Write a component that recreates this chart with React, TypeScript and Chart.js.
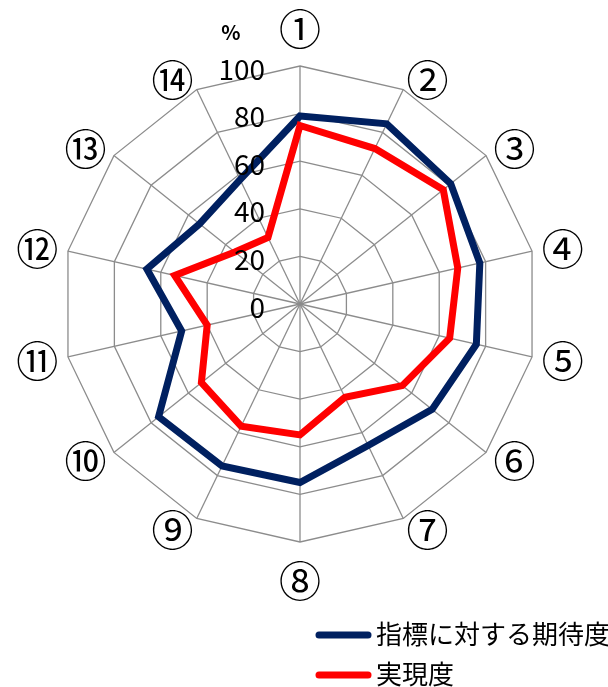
import { useEffect, useRef } from 'react';
import { Chart, registerables } from 'chart.js';

Chart.register(...registerables);

const categories = ['①', '②', '③', '④', '⑤', '⑥', '⑦', '⑧', '⑨', '⑩', '⑪', '⑫', '⑬', '⑭'];
const expectation = [79, 84, 81, 77.5, 76, 71, 66, 75, 75.5, 76, 51, 66, 54, 58];
const realization = [75, 72.5, 77, 68, 64.5, 55, 43.5, 55, 57, 53, 40, 54, 35, 31];
const tickValues = [0, 20, 40, 60, 80, 100];
const seriesNames = ['指標に対する期待度', '実現度'];
const seriesColors = ['#002060', '#ff0000'];
const unitLabel = '%';

const FONT = '"Noto Sans CJK JP", "Noto Sans", sans-serif';

const overlayPlugin = {
  id: 'overlay',
  afterDraw(chart: any) {
    const scale = chart.scales.r;
    const ctx = chart.ctx as CanvasRenderingContext2D;
    const cx = scale.xCenter;
    const cy = scale.yCenter;
    const R = scale.drawingArea;
    ctx.save();
    ctx.fillStyle = '#000';

    // tick labels
    ctx.font = `28px ${FONT}`;
    ctx.textAlign = 'right';
    ctx.textBaseline = 'middle';
    scale.ticks.forEach((t: any) => {
      const d = scale.getDistanceFromCenterForValue(t.value);
      ctx.fillText(String(t.value), cx - 35, cy - d + 3);
    });

    // unit label
    ctx.font = `bold 20px ${FONT}`;
    ctx.textAlign = 'center';
    ctx.fillText(unitLabel, cx - 69, cy - R - 34);

    // point labels
    const labels: string[] = chart.data.labels;
    const n = labels.length;
    ctx.font = `42px ${FONT}`;
    ctx.textAlign = 'center';
    ctx.textBaseline = 'middle';
    labels.forEach((lab, i) => {
      const ang = (i * 2 * Math.PI) / n;
      const s = Math.sin(ang);
      const c = Math.cos(ang);
      let x: number;
      let y: number;
      if (Math.abs(s) < 0.01) {
        x = cx;
        y = cy - c * (R + 38);
      } else {
        const p = scale.getPointPosition(i, R + 12);
        x = p.x + (s > 0 ? 19 : -19);
        y = p.y;
      }
      ctx.fillText(lab, x, y + 1);
    });

    // legend
    const datasets = chart.data.datasets;
    const lx0 = 319;
    const lx1 = 368;
    const ly = [635, 675];
    datasets.forEach((ds: any, i: number) => {
      ctx.beginPath();
      ctx.strokeStyle = ds.borderColor;
      ctx.lineWidth = 7;
      ctx.lineCap = 'round';
      ctx.moveTo(lx0, ly[i]);
      ctx.lineTo(lx1, ly[i]);
      ctx.stroke();
      ctx.font = `26px ${FONT}`;
      ctx.textAlign = 'left';
      ctx.textBaseline = 'middle';
      ctx.fillStyle = '#000';
      ctx.fillText(ds.label, 376, ly[i] - 1);
    });
    ctx.restore();
  },
};

export default function App() {
  const ref = useRef<HTMLCanvasElement | null>(null);
  useEffect(() => {
    if (!ref.current) return;
    const chart = new Chart(ref.current, {
      type: 'radar',
      data: {
        labels: categories,
        datasets: [
          {
            label: seriesNames[0],
            data: expectation,
            borderColor: seriesColors[0],
            backgroundColor: seriesColors[0],
            borderWidth: 7,
            pointRadius: 0,
            fill: false,
            order: 1,
          },
          {
            label: seriesNames[1],
            data: realization,
            borderColor: seriesColors[1],
            backgroundColor: seriesColors[1],
            borderWidth: 7,
            pointRadius: 0,
            fill: false,
            order: 0,
          },
        ],
      },
      options: {
        responsive: false,
        animation: false,
        layout: { padding: { left: 62, right: 70, top: 66, bottom: 145 } },
        plugins: { legend: { display: false }, tooltip: { enabled: false } },
        scales: {
          r: {
            min: tickValues[0],
            max: tickValues[tickValues.length - 1],
            ticks: { stepSize: tickValues[1] - tickValues[0], display: false },
            pointLabels: { display: false },
            grid: { color: '#8c8c8c', lineWidth: 1.3 },
            angleLines: { color: '#8c8c8c', lineWidth: 1.3 },
          },
        },
      },
      plugins: [overlayPlugin],
    });
    return () => chart.destroy();
  }, []);
  return (
    <div style={{ position: 'absolute', left: 0, top: 0, width: 608, height: 687, background: '#fff' }}>
      <canvas ref={ref} width={608} height={687} style={{ display: 'block' }} />
    </div>
  );
}
